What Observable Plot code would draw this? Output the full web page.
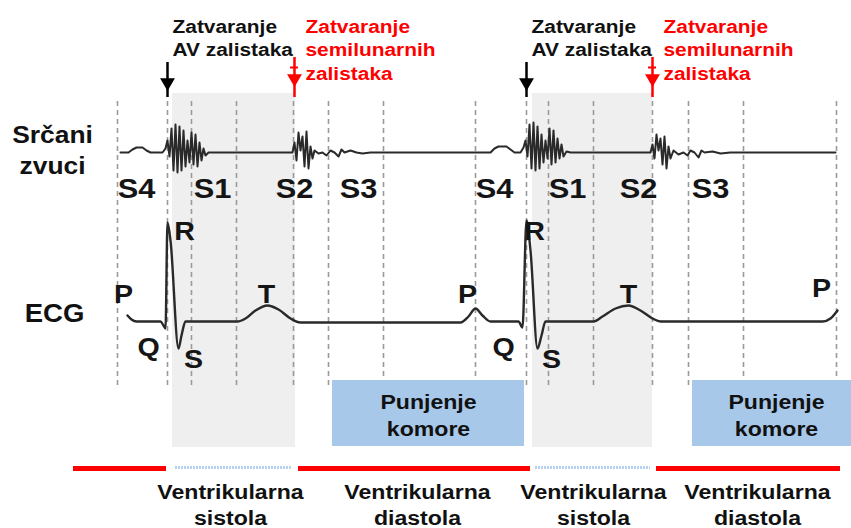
<!DOCTYPE html>
<html>
<head>
<meta charset="utf-8">
<script src="https://cdn.jsdelivr.net/npm/d3@7"></script>
<script src="https://cdn.jsdelivr.net/npm/@observablehq/plot@0.6"></script>
<style>
  html, body { margin: 0; padding: 0; background: #fff; }
  #chart { width: 851px; height: 528px; }
</style>
</head>
<body>
<div id="chart"></div>
<script>
// ---- data (time axis left→right, amplitude axis top→down) ----
const eventTimes = [117, 167, 191, 236, 293, 328, 383, 475, 526, 548, 593, 652, 688, 743, 836];
const systoleStart = [172, 532];
const systoleEnd = [295, 652];
const fillingStart = [332, 692];
const fillingEnd = [524, 851];
const diastoleBarStart = [73, 298, 656];
const diastoleBarEnd = [166, 530, 840];
const systoleBarStart = [175, 535];
const systoleBarEnd = [292, 650];
const avCloseTimes = [167, 526];
const slCloseTimes = [294, 652];

// heart sound trace
const soundT = [120,128,132,136,142,146,150,162,165,167,169,171,173,175,177,179,181,183,185,187,189,191,193,195,197,199,201,203,205,208,
  292,294,296,298,300,302,304,306,308,310,312,314,318,322,326,330,334,338,341,344,350,356,362,370,
  490,494,498,506,510,514,520,523,525,527,529,531,533,535,537,539,541,543,545,547,549,551,553,555,557,559,561,563,566,570,
  650,652,654,656,658,660,662,664,666,668,670,673,678,683,687,690,694,698,701,704,712,720,730,835];
const soundA = [152,152,149,147,147,150,152,152,148,140,156,128,170,124,172,126,170,130,166,140,162,132,164,134,166,142,160,148,155,152,
  152,142,160,132,150,136,166,131,168,146,158,150,153,152,155,150,152,156,149,152,150,152,153,152,
  152,148,146,146,149,152,152,147,140,156,124,168,122,170,126,168,134,162,140,158,128,164,130,162,138,158,144,156,151,152,
  152,144,158,134,150,138,164,136,168,146,158,150,154,152,155,150,152,157,150,152,151,153,152,152];

// ECG trace
const ecgT = [127,131,136,160,163,165,167,170,178,181,185,237,245,255,267,278,290,300,
  460,468,475,482,490,518,522,526,530,537,541,545,593,602,615,628,640,652,660,822,830,837];
const ecgA = [315,319,321,321,325,328,222,240,348,335,321,321,318,310,305,309,318,322,
  322,316,308,315,321,321,327,220,250,348,335,321,321,316,308,305,310,318,321,321,318,310];

const soundLabels = ["S4","S1","S2","S3","S4","S1","S2","S3"];
const soundLabelT = [136, 212, 294, 358, 494, 567, 638, 710];

const waveLabels = ["P","Q","R","S","T","P","Q","R","S","T","P"];
const waveLabelT = [123, 148, 184, 193, 266, 467, 503, 534, 551, 628, 821];
const waveLabelA = [302, 355, 239, 367, 302, 302, 355, 239, 367, 302, 296];

const avText = ["Zatvaranje", "AV zalistaka"];
const slText = ["Zatvaranje", "semilunarnih", "zalistaka"];
const fillText = ["Punjenje", "komore"];
const fillTextT = [428, 776];
const phaseText = [["Ventrikularna","sistola"],["Ventrikularna","diastola"],["Ventrikularna","sistola"],["Ventrikularna","diastola"]];
const phaseTextT = [230, 417, 593, 757];
const rowLabels = [["Srčani","zvuci"],["ECG"]];

// ---- build tables ----
const sound = soundT.map((t, i) => ({t, a: soundA[i]}));
const ecg = ecgT.map((t, i) => ({t, a: ecgA[i]}));
const systole = systoleStart.map((s, i) => ({x1: s, x2: systoleEnd[i]}));
const filling = fillingStart.map((s, i) => ({x1: s, x2: fillingEnd[i]}));
const diaBar = diastoleBarStart.map((s, i) => ({x1: s, x2: diastoleBarEnd[i]}));
const sysBar = systoleBarStart.map((s, i) => ({x1: s, x2: systoleBarEnd[i]}));

const LH = 23.5;
const avRows = avCloseTimes.flatMap(t => avText.map((s, j) => ({t: t + 5, line: j, s})));
const slRows = slCloseTimes.flatMap(t => slText.map((s, j) => ({t: t + 11, line: j, s})));
const fillRows = fillTextT.flatMap(t => fillText.map((s, j) => ({t, line: j, s})));
const phaseRows = phaseTextT.flatMap((t, i) => phaseText[i].map((s, j) => ({t, line: j, s})));
const soundLabelRows = soundLabels.map((s, i) => ({s, t: soundLabelT[i]}));
const waveLabelRows = waveLabels.map((s, i) => ({s, t: waveLabelT[i], a: waveLabelA[i]}));

const FONT = "'Liberation Sans', Arial, Helvetica, sans-serif";

const chart = Plot.plot({
  width: 851,
  height: 528,
  margin: 0,
  x: {domain: [0, 851], range: [0, 851], axis: null},
  y: {domain: [0, 528], range: [0, 528], axis: null},
  style: {fontFamily: FONT, background: "#fff"},
  marks: [
    // systole shading
    Plot.rect(systole, {x1: "x1", x2: "x2", y1: 93, y2: 447, fill: "#efefef"}),
    // dashed event lines
    Plot.ruleX(eventTimes, {y1: 101, y2: 388, stroke: "#9a9a9a", strokeWidth: 1.6, strokeDasharray: "5,4"}),
    // filling boxes
    Plot.rect(filling, {x1: "x1", x2: "x2", y1: 380, y2: 446, fill: "#a8c8e9"}),
    Plot.text(fillRows, {x: "t", y: d => 408 + d.line * 27, text: "s", fontSize: 21, fontWeight: "bold", fill: "#111", lineAnchor: "bottom"}),
    // phase bars
    Plot.ruleY(diaBar, {x1: "x1", x2: "x2", y: 468, stroke: "#ff0000", strokeWidth: 5}),
    Plot.ruleY(sysBar, {x1: "x1", x2: "x2", y: 467, stroke: "#b7d2f0", strokeWidth: 3, strokeDasharray: "2,1"}),
    Plot.text(phaseRows, {x: "t", y: d => 498 + d.line * 26, text: "s", fontSize: 21, fontWeight: "bold", fill: "#111", lineAnchor: "bottom"}),
    // heart sound trace
    Plot.line(sound, {x: "t", y: "a", stroke: "#2a2a2a", strokeWidth: 2}),
    // ECG trace
    Plot.line(ecg, {x: "t", y: "a", stroke: "#2a2a2a", strokeWidth: 2.4, curve: "monotone-x"}),
    // sound labels
    Plot.text(soundLabelRows, {x: "t", y: 197, text: "s", fontSize: 28, fontWeight: "bold", fill: "#151515", lineAnchor: "bottom"}),
    // wave labels
    Plot.text(waveLabelRows, {x: "t", y: "a", text: "s", fontSize: 26, fontWeight: "bold", fill: "#151515", lineAnchor: "bottom"}),
    // valve closure arrows
    Plot.ruleX(avCloseTimes, {y1: 62, y2: 97, stroke: "#000", strokeWidth: 2.5}),
    Plot.dot(avCloseTimes, {x: d => d, y: 82, symbol: "triangle", rotate: 180, r: 5.5, fill: "#000", stroke: "none"}),
    Plot.ruleX(slCloseTimes, {y1: 57, y2: 97, stroke: "#ff0000", strokeWidth: 2.5}),
    Plot.ruleY(slCloseTimes, {x1: d => d - 4, x2: d => d + 4, y: 67, stroke: "#ff0000", strokeWidth: 2}),
    Plot.dot(slCloseTimes, {x: d => d, y: 78, symbol: "triangle", rotate: 180, r: 5.5, fill: "#ff0000", stroke: "none"}),
    Plot.text(avRows, {x: "t", y: d => 32 + d.line * LH, text: "s", textAnchor: "start", fontSize: 19, fontWeight: "bold", fill: "#111", lineAnchor: "bottom"}),
    Plot.text(slRows, {x: "t", y: d => 32 + d.line * LH, text: "s", textAnchor: "start", fontSize: 19, fontWeight: "bold", fill: "#ff0000", lineAnchor: "bottom"}),
    // row labels
    Plot.text(rowLabels[0], {x: 52, y: (d, i) => 142 + i * 31, text: d => d, fontSize: 24, fontWeight: "bold", fill: "#111", lineAnchor: "bottom"}),
    Plot.text(rowLabels[1], {x: 54, y: 321, text: d => d, fontSize: 25, fontWeight: "bold", fill: "#111", lineAnchor: "bottom"})
  ]
});

// the reference lettering is slightly stretched horizontally
d3.select(chart).selectAll("text").each(function () {
  const t = this.getAttribute("transform");
  if (t) {
    this.setAttribute("transform", t + " scale(1.1,1)");
  } else {
    const x = +this.getAttribute("x") || 0, y = +this.getAttribute("y") || 0;
    this.setAttribute("x", 0); this.setAttribute("y", 0);
    this.setAttribute("transform", `translate(${x},${y}) scale(1.1,1)`);
  }
});

document.getElementById("chart").appendChild(chart);
</script>
</body>
</html>
